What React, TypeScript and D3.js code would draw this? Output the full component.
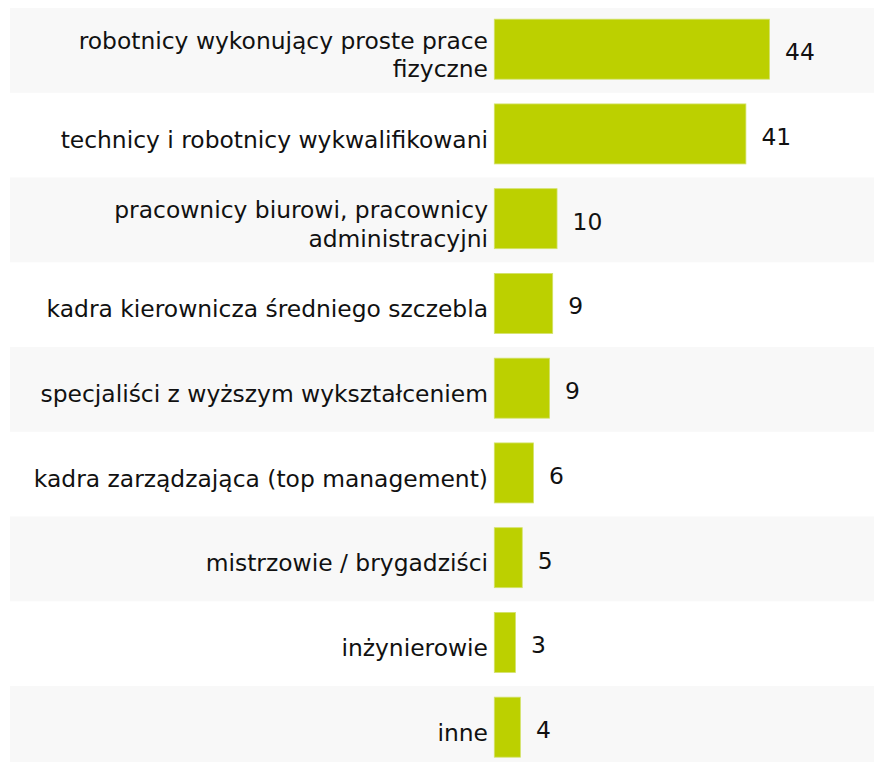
import React from "react";
import * as d3 from "d3";

const categories: string[][] = [
  ["robotnicy wykonujący proste prace", "fizyczne"],
  ["technicy i robotnicy wykwalifikowani"],
  ["pracownicy biurowi, pracownicy", "administracyjni"],
  ["kadra kierownicza średniego szczebla"],
  ["specjaliści z wyższym wykształceniem"],
  ["kadra zarządzająca (top management)"],
  ["mistrzowie / brygadziści"],
  ["inżynierowie"],
  ["inne"],
];
const values: number[] = [44.3, 40.5, 10.1, 9.4, 8.9, 6.3, 4.5, 3.4, 4.2];
const valueLabels: string[] = ["44", "41", "10", "9", "9", "6", "5", "3", "4"];

const W = 874;
const H = 762;
const FONT = "'DejaVu Sans', Verdana, sans-serif";

export default function App() {
  const ids = categories.map((_, i) => String(i));
  const y = d3.scaleBand<string>().domain(ids).range([8, 8 + 9 * 84.75]).padding(0);
  const x = d3.scaleLinear().domain([0, 44.3]).range([494.3, 769.5]);
  const bw = y.bandwidth();
  const barH = 60;

  return (
    <svg
      width={W}
      height={H}
      style={{ position: "absolute", left: 0, top: 0, display: "block", background: "#fff" }}
    >
      {ids.map((id, i) =>
        i % 2 === 0 ? (
          <rect key={"b" + id} x={10} y={y(id)} width={W - 10} height={bw} fill="#f8f8f8" />
        ) : null
      )}
      {ids.map((id, i) => {
        const y0 = y(id)!;
        const cy = y0 + bw / 2 - 1.2;
        const lines = categories[i];
        return (
          <g key={"r" + id}>
            <rect
              x={x(0)}
              y={cy - barH / 2}
              width={x(values[i]) - x(0)}
              height={barH}
              fill="#bcd000"
              stroke="#d3e26a"
              strokeWidth={0.8}
            />
            {lines.map((ln, j) => (
              <text
                key={j}
                x={488}
                y={lines.length === 1 ? cy + 13.8 : cy - 0.5 + j * 28.4}
                textAnchor="end"
                fontFamily={FONT}
                fontSize={23.4}
                fill="#111"
              >
                {ln}
              </text>
            ))}
            <text
              x={x(values[i]) + 15.5}
              y={cy + 11}
              fontFamily={FONT}
              fontSize={23.4}
              fill="#111"
            >
              {valueLabels[i]}
            </text>
          </g>
        );
      })}
    </svg>
  );
}
